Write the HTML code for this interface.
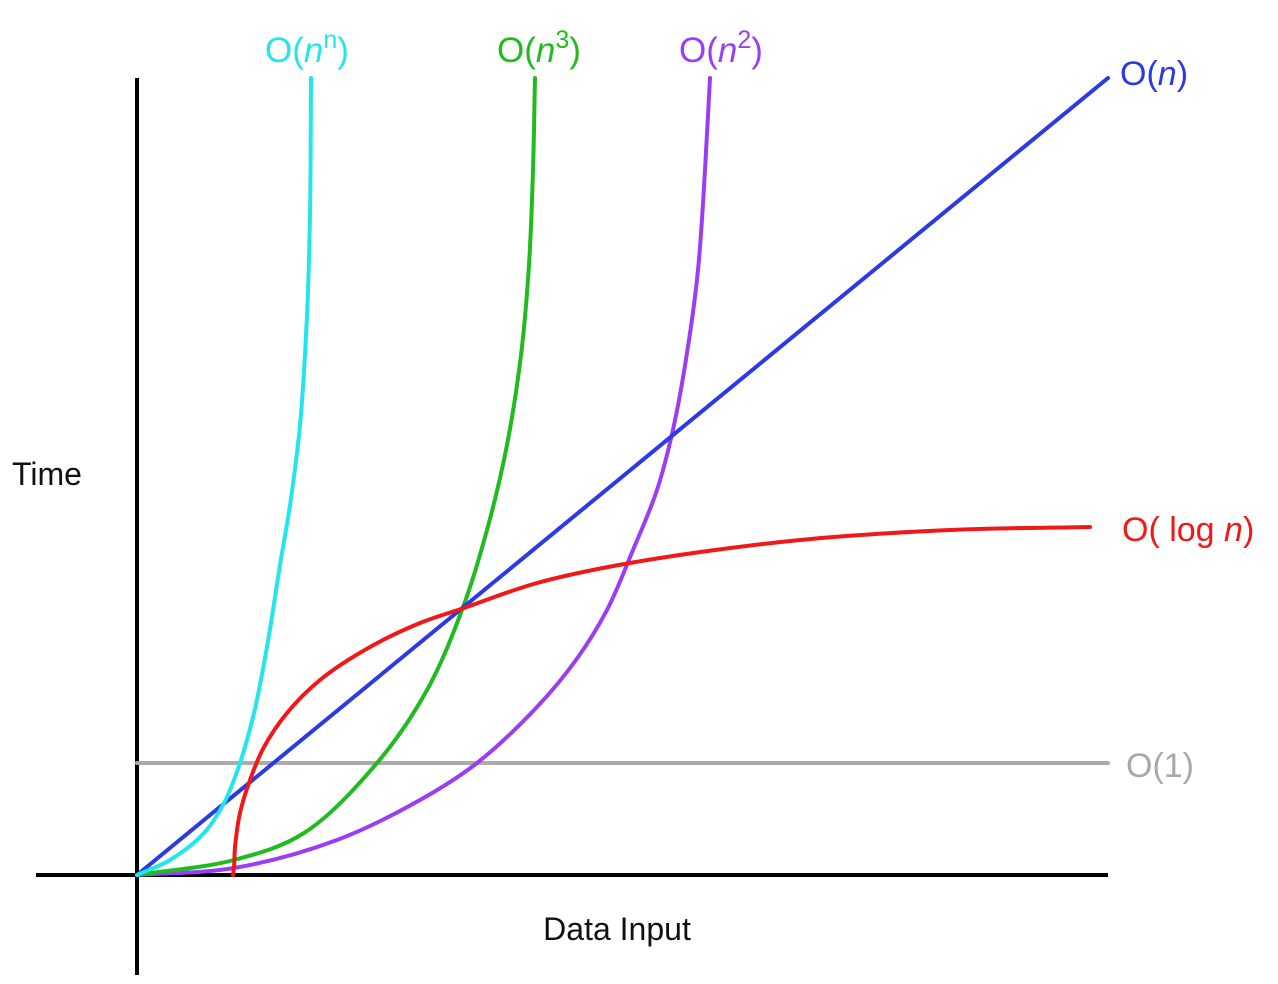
<!DOCTYPE html>
<html><head><meta charset="utf-8"><style>
body{margin:0;background:#fff;width:1278px;height:984px;overflow:hidden}
svg{display:block}
text{font-family:"Liberation Sans",Arial,sans-serif}
</style></head><body>
<svg id="chart" width="1278" height="984" viewBox="0 0 1278 984">
<line x1="137" y1="78" x2="137" y2="975" stroke="#000" stroke-width="4"/>
<line x1="36" y1="875" x2="1108" y2="875" stroke="#000" stroke-width="4"/>
<g id="series"></g>
<text x="12" y="485" font-size="32" fill="#111">Time</text>
<text x="617" y="940" font-size="32" fill="#111" text-anchor="middle">Data Input</text>
<text x="265" y="62" font-size="35" fill="#22e5ee">O(<tspan font-style="italic">n</tspan><tspan font-size="25" dy="-14">n</tspan><tspan dy="14">)</tspan></text>
<text x="497" y="62" font-size="35" fill="#1fbb1f">O(<tspan font-style="italic">n</tspan><tspan font-size="25" dy="-14">3</tspan><tspan dy="14">)</tspan></text>
<text x="679" y="62" font-size="35" fill="#9b3df5">O(<tspan font-style="italic">n</tspan><tspan font-size="25" dy="-14">2</tspan><tspan dy="14">)</tspan></text>
<text x="1120" y="85" font-size="34" fill="#2b39e6">O(<tspan font-style="italic">n</tspan>)</text>
<text x="1122" y="541" font-size="34" fill="#f01818">O( log <tspan font-style="italic">n</tspan>)</text>
<text x="1126" y="777" font-size="34" fill="#a8a8a8">O(1)</text>
</svg>
<script>
// data in chart units: x = horizontal distance from origin, y = height above x-axis
const cyanX=[0,33,67,87,103,117,130,143,153,163,170,173,174];
const cyanY=[0,15,42,72,112,162,228,310,370,450,560,660,797];
const greenX=[0,97,167,240,290,325,350,370,384,392,396,398];
const greenY=[0,15,42,112,185,265,345,430,520,610,705,797];
const purpleX=[0,97,200,283,340,400,439,470,496,520,537,550,561,568,573];
const purpleY=[0,7,35,75,112,168,215,265,325,385,450,522,605,705,797];
const blueX=[0,971];
const blueY=[0,797];
const redX=[96,97,98,103,113,127,150,183,233,283,327,400,493,663,813,953];
const redY=[0,8,28,62,95,128,162,195,228,252,267,292,312,335,345,348];
const grayX=[0,971];
const grayY=[112,112];

const x0=137,y0=875;
function sx(v){return x0+v;}
function sy(v){return y0-v;}
const g=document.getElementById('series');
function draw(xs,ys,color,name,w){
  const p=xs.map((x,i)=>[sx(x),sy(ys[i])]);
  let d='M'+p[0][0]+' '+p[0][1];
  if(p.length===2){d+=' L'+p[1][0]+' '+p[1][1];}
  else{
    for(let i=0;i<p.length-1;i++){
      const a=p[i-1]||p[i],b=p[i],c=p[i+1],e=p[i+2]||c;
      const dist=(u,v)=>Math.max(1e-3,Math.sqrt(Math.hypot(u[0]-v[0],u[1]-v[1])));
      const d1=dist(a,b),d2=dist(b,c),d3=dist(c,e);
      let c1,c2;
      if(a===b){c1=[b[0]+(c[0]-b[0])/3,b[1]+(c[1]-b[1])/3];}
      else{
        const t1=[(c[0]-b[0])/d2-(c[0]-a[0])/(d1+d2)+(b[0]-a[0])/d1,(c[1]-b[1])/d2-(c[1]-a[1])/(d1+d2)+(b[1]-a[1])/d1];
        c1=[b[0]+t1[0]*d2/3,b[1]+t1[1]*d2/3];
      }
      if(e===c){c2=[c[0]-(c[0]-b[0])/3,c[1]-(c[1]-b[1])/3];}
      else{
        const t2=[(c[0]-b[0])/d2-(e[0]-b[0])/(d2+d3)+(e[0]-c[0])/d3,(c[1]-b[1])/d2-(e[1]-b[1])/(d2+d3)+(e[1]-c[1])/d3];
        c2=[c[0]-t2[0]*d2/3,c[1]-t2[1]*d2/3];
      }
      d+=' C'+c1[0].toFixed(1)+' '+c1[1].toFixed(1)+' '+c2[0].toFixed(1)+' '+c2[1].toFixed(1)+' '+c[0]+' '+c[1];
    }
  }
  const el=document.createElementNS('http://www.w3.org/2000/svg','path');
  el.setAttribute('d',d);el.setAttribute('fill','none');
  el.setAttribute('stroke',color);el.setAttribute('stroke-width',w||4);
  el.setAttribute('stroke-linecap','round');
  
  
  g.appendChild(el);
}
draw(grayX,grayY,'#ababab','constant-line',4);
draw(purpleX,purpleY,'#9b3df5','quadratic-curve',4);
draw(greenX,greenY,'#1fbb1f','cubic-curve',4);
draw(blueX,blueY,'#2b39e6','linear-line',4);
draw(redX,redY,'#f01818','log-curve',4);
draw(cyanX,cyanY,'#22e5ee','exponential-curve',4);
</script>
</body></html>
